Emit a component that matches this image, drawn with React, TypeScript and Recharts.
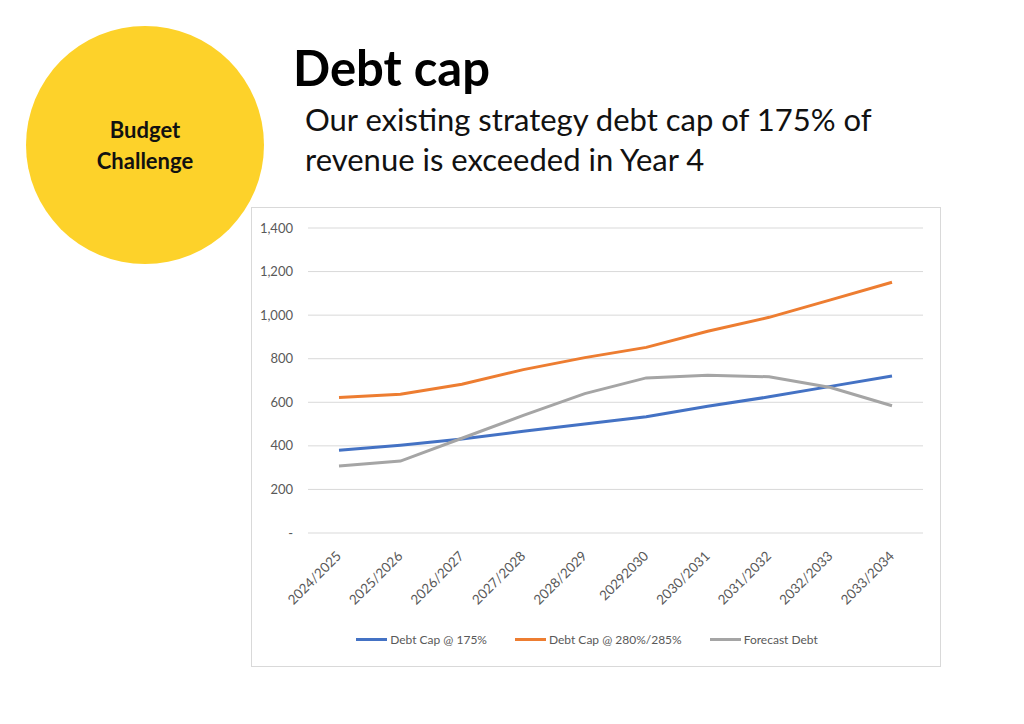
import { LineChart, Line, XAxis, YAxis, CartesianGrid, Legend } from "recharts";

const categories = [
  "2024/2025",
  "2025/2026",
  "2026/2027",
  "2027/2028",
  "2028/2029",
  "20292030",
  "2030/2031",
  "2031/2032",
  "2032/2033",
  "2033/2034",
];
const debtCap175 = [380, 403, 432, 467, 500, 534, 582, 625, 673, 721];
const debtCap280 = [622, 637, 683, 750, 805, 852, 926, 990, 1070, 1151];
const forecastDebt = [307, 330, 435, 540, 640, 712, 724, 717, 668, 584];
const yTicks = [0, 200, 400, 600, 800, 1000, 1200, 1400];

const series = [
  { key: "cap175", name: "Debt Cap @ 175%", color: "#4472C4" },
  { key: "cap280", name: "Debt Cap @ 280%/285%", color: "#ED7D31" },
  { key: "forecast", name: "Forecast Debt", color: "#A5A5A5" },
];

const data = categories.map((year, i) => ({
  year,
  cap175: debtCap175[i],
  cap280: debtCap280[i],
  forecast: forecastDebt[i],
}));

const FONT = "Lato, 'Open Sans', sans-serif";

// rotated year labels, like excel's -45deg axis text
const YearTick = ({ x, y, payload }: any) => (
  <g transform={`translate(${x + 3},${y + 16})`}>
    <text textAnchor="end" transform="rotate(-45)" fontSize={13.5} fill="#595959" fontFamily={FONT}>
      {payload.value}
    </text>
  </g>
);

const renderLegend = () => (
  <div
    style={{
      display: "flex",
      justifyContent: "center",
      alignItems: "center",
      height: 56,
      gap: 28,
      fontSize: 12,
      color: "#595959",
      fontFamily: FONT,
    }}
  >
    {series.map((s) => (
      <div key={s.key} style={{ display: "flex", alignItems: "center" }}>
        <span style={{ display: "inline-block", width: 31, height: 3, background: s.color, marginRight: 3 }} />
        <span>{s.name}</span>
      </div>
    ))}
  </div>
);

export default function App() {
  return (
    <div style={{ position: "absolute", left: 0, top: 0, width: 1024, height: 724, background: "#fff", fontFamily: FONT }}>
      {/* yellow badge */}
      <div
        style={{
          position: "absolute",
          left: 26,
          top: 26,
          width: 238,
          height: 238,
          borderRadius: "50%",
          background: "#FDD22A",
          display: "flex",
          alignItems: "center",
          justifyContent: "center",
          textAlign: "center",
          fontWeight: 700,
          fontSize: 22,
          lineHeight: "31px",
          color: "#111",
        }}
      >
        Budget
        <br />
        Challenge
      </div>

      <div style={{ position: "absolute", left: 293, top: 38, fontSize: 49, fontWeight: 700, lineHeight: "58px", color: "#000" }}>
        Debt cap
      </div>
      <div style={{ position: "absolute", left: 305, top: 99, fontSize: 31, lineHeight: "40px", color: "#111" }}>
        Our existing strategy debt cap of 175% of
        <br />
        revenue is exceeded in Year 4
      </div>

      <div
        style={{
          position: "absolute",
          left: 251,
          top: 207,
          width: 690,
          height: 460,
          border: "1px solid #d9d9d9",
          boxSizing: "border-box",
        }}
      />
      <div style={{ position: "absolute", left: 251, top: 207 }}>
        <LineChart width={690} height={460} data={data} margin={{ top: 21, right: 18, left: 0, bottom: 0 }}>
          <CartesianGrid vertical={false} stroke="#d9d9d9" />
          <XAxis
            dataKey="year"
            axisLine={false}
            tickLine={false}
            height={78}
            padding={{ left: 31, right: 31 }}
            interval={0}
            tick={<YearTick />}
          />
          <YAxis
            width={57}
            domain={[0, 1400]}
            ticks={yTicks}
            axisLine={false}
            tickLine={false}
            tickSize={0}
            tickMargin={15}
            tick={{ fontSize: 13, fill: "#595959", fontFamily: FONT }}
            tickFormatter={(v: number) => (v === 0 ? "-" : v.toLocaleString("en-US"))}
          />
          <Legend verticalAlign="bottom" content={renderLegend} wrapperStyle={{ height: 56 }} />
          {series.map((s) => (
            <Line
              key={s.key}
              type="linear"
              dataKey={s.key}
              name={s.name}
              stroke={s.color}
              strokeWidth={3}
              dot={false}
              isAnimationActive={false}
            />
          ))}
        </LineChart>
      </div>
    </div>
  );
}
